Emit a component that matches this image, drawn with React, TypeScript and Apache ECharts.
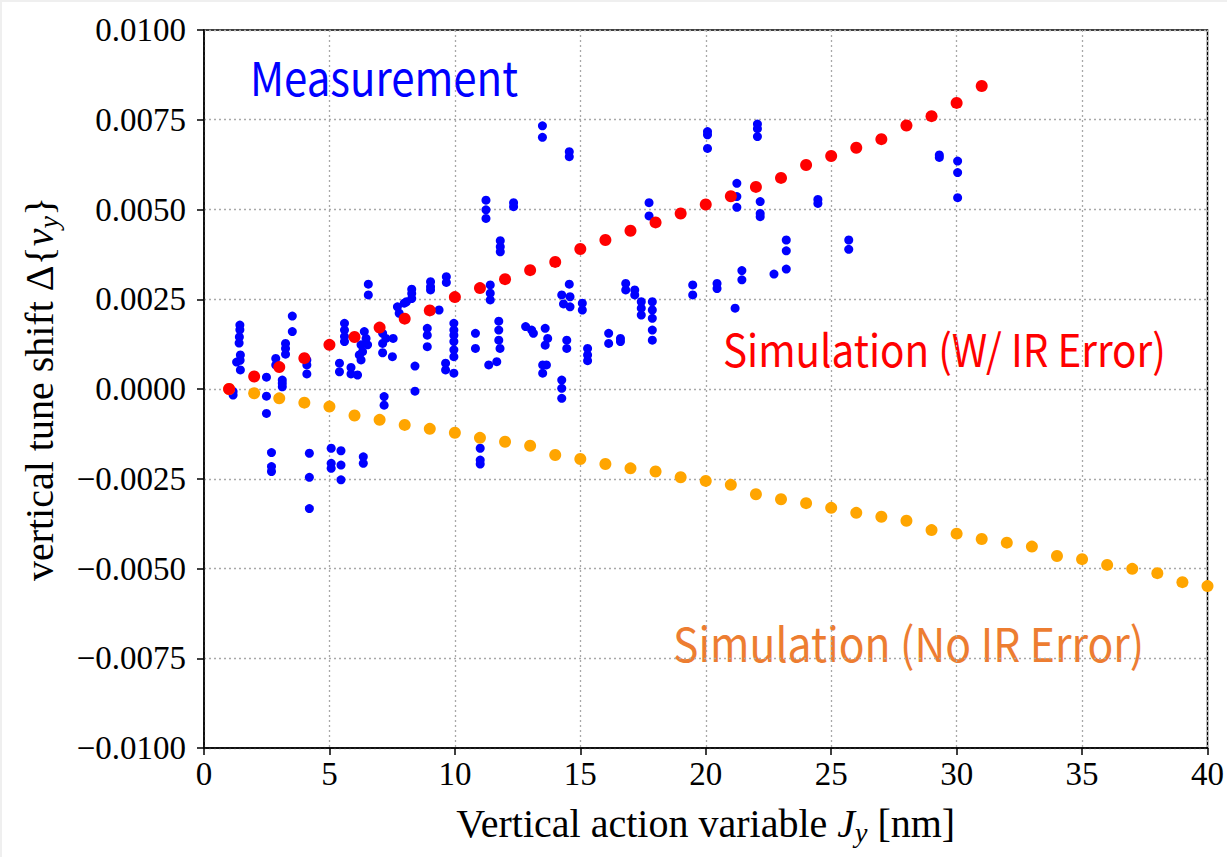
import React, { useEffect, useRef } from "react";
import * as echarts from "echarts";

// Measurement points [J_y (nm), tune shift]
const measurement: [number, number][] = [
  [1.16, -0.00007], [1.16, -0.00017],
  [1.3, 0.00075],
  [1.43, 0.00178], [1.43, 0.00165], [1.41, 0.00145], [1.4, 0.00128], [1.45, 0.00095], [1.44, 0.0008], [1.45, 0.00053],
  [2.49, 0.00033], [2.49, -0.0002], [2.49, -0.00068],
  [2.69, -0.00177], [2.69, -0.00216], [2.69, -0.0023],
  [2.86, 0.00085], [2.86, 0.00067],
  [3.12, 0.00025], [3.12, 0.00016], [3.12, 0.00006],
  [3.25, 0.00127], [3.25, 0.00113], [3.25, 0.00097],
  [3.52, 0.00203], [3.52, 0.0016],
  [4.1, 0.00081], [4.1, 0.00067], [4.1, 0.00042],
  [4.2, -0.00179], [4.2, -0.00246], [4.2, -0.00333],
  [5.07, -0.00165], [5.07, -0.00207], [5.07, -0.00221],
  [5.4, 0.00072], [5.4, 0.00048],
  [5.46, -0.00172], [5.46, -0.00212], [5.46, -0.00253],
  [5.6, 0.00183], [5.6, 0.00164], [5.6, 0.00146], [5.6, 0.00132],
  [5.86, 0.0006], [5.86, 0.00042], [6.12, 0.00039],
  [6.39, 0.0016], [6.46, 0.00141], [6.26, 0.00123], [6.52, 0.00123], [6.32, 0.00104], [6.19, 0.00095], [6.26, 0.00081],
  [6.35, -0.00189], [6.35, -0.00207],
  [6.55, 0.00292], [6.55, 0.00262],
  [7.12, 0.00155], [7.25, 0.00141], [7.12, 0.00127], [7.54, 0.00141], [7.12, 0.00101], [7.51, 0.0009],
  [7.18, -0.00021], [7.18, -0.00045],
  [7.71, 0.00229], [7.98, 0.00239], [7.78, 0.00211], [8.07, 0.00243],
  [8.28, 0.00278], [8.28, 0.00266], [8.28, 0.00252],
  [8.41, 0.00064], [8.41, -0.00006],
  [8.9, 0.00169], [8.9, 0.0015], [8.9, 0.00118],
  [9.03, 0.00299], [9.03, 0.00285], [9.03, 0.00276],
  [9.37, 0.0022],
  [9.66, 0.00313], [9.66, 0.00297],
  [9.63, 0.00072], [9.63, 0.00053],
  [9.96, 0.00183], [9.96, 0.00164], [9.96, 0.0015], [9.96, 0.00132], [9.96, 0.00109], [9.96, 0.0009], [9.96, 0.00044],
  [10.82, 0.00155], [10.82, 0.00113],
  [11.01, -0.00165], [11.01, -0.00198], [11.01, -0.00209],
  [11.24, 0.00526], [11.24, 0.00499], [11.24, 0.00475],
  [11.35, 0.00067], [11.67, 0.00076],
  [11.41, 0.0029], [11.41, 0.00267], [11.41, 0.00248],
  [11.75, 0.00189], [11.75, 0.00164], [11.75, 0.00136], [11.8, 0.00113],
  [11.81, 0.00413], [11.81, 0.00396], [11.81, 0.00382],
  [12.34, 0.00519], [12.34, 0.00508],
  [12.82, 0.00174], [13.06, 0.00164], [13.13, 0.00155],
  [13.6, 0.00169], [13.7, 0.00141], [13.6, 0.00122],
  [13.49, 0.00733], [13.49, 0.00701],
  [13.5, 0.00067], [13.5, 0.00044], [13.65, 0.00067],
  [14.46, 0.00136], [14.46, 0.00113],
  [14.26, 0.00025], [14.26, 0.00002], [14.26, -0.00026],
  [14.26, 0.00262], [14.33, 0.00237], [14.59, 0.00257], [14.59, 0.00229], [14.56, 0.00292],
  [14.56, 0.00661], [14.56, 0.00647],
  [15.08, 0.00239], [15.08, 0.0022],
  [15.29, 0.00113], [15.29, 0.00095], [15.29, 0.00079],
  [16.13, 0.00155], [16.13, 0.00127],
  [16.6, 0.00141], [16.6, 0.00132],
  [16.81, 0.00294], [16.81, 0.00276],
  [17.17, 0.00276], [17.17, 0.00262],
  [17.43, 0.00243], [17.43, 0.00225], [17.43, 0.00206],
  [17.74, 0.00519], [17.74, 0.00482],
  [17.87, 0.00243], [17.87, 0.0022], [17.87, 0.00197], [17.87, 0.00164], [17.87, 0.00136],
  [19.48, 0.0029], [19.48, 0.00262],
  [20.07, 0.00717], [20.07, 0.00708], [20.07, 0.0067],
  [20.45, 0.00294], [20.45, 0.0028],
  [21.17, 0.00225],
  [21.24, 0.00573], [21.24, 0.00536], [21.24, 0.00506],
  [21.44, 0.0033], [21.44, 0.00304],
  [22.06, 0.00738], [22.06, 0.00725], [22.06, 0.00703],
  [22.17, 0.00522], [22.17, 0.00489], [22.17, 0.0048],
  [22.72, 0.0032],
  [23.21, 0.00415], [23.21, 0.00385], [23.21, 0.00334],
  [24.47, 0.00528], [24.47, 0.00517],
  [25.7, 0.00415], [25.7, 0.00389],
  [29.31, 0.00652], [29.31, 0.00645],
  [30.04, 0.00635], [30.04, 0.00603], [30.04, 0.00533],
];

// Simulation with IR error
const simWithJ = [1, 2, 3, 4, 5, 6, 7, 8, 9, 10, 11, 12, 13, 14, 15, 16, 17, 18, 19, 20, 21, 22, 23, 24, 25, 26, 27, 28, 29, 30, 31];
const simWithValues = [
  0, 0.00035, 0.00061, 0.00086, 0.00123, 0.00145, 0.00171, 0.00196, 0.00219, 0.00256,
  0.00281, 0.00306, 0.00331, 0.00354, 0.0039, 0.00415, 0.00441, 0.00464, 0.00489, 0.00514,
  0.00537, 0.00563, 0.00588, 0.00624, 0.00649, 0.00672, 0.00696, 0.00734, 0.0076, 0.00797, 0.00844,
];

// Simulation without IR error
const simNoJ = [1, 2, 3, 4, 5, 6, 7, 8, 9, 10, 11, 12, 13, 14, 15, 16, 17, 18, 19, 20, 21, 22, 23, 24, 25, 26, 27, 28, 29, 30, 31, 32, 33, 34, 35, 36, 37, 38, 39, 40];
const simNoValues = [
  0, -0.00012, -0.00026, -0.00038, -0.00049, -0.00074, -0.00086, -0.001, -0.00111, -0.00122,
  -0.00136, -0.00147, -0.00158, -0.00184, -0.00195, -0.00209, -0.00221, -0.0023, -0.00246, -0.00256,
  -0.00267, -0.00293, -0.00307, -0.00318, -0.00331, -0.00345, -0.00356, -0.00367, -0.00393, -0.00403,
  -0.00418, -0.00428, -0.00439, -0.00465, -0.00474, -0.0049, -0.00501, -0.00513, -0.00538, -0.00549,
];

const xMin = 0, xMax = 40, xStep = 5;
const yMin = -0.01, yMax = 0.01, yStep = 0.0025;

const SERIF = "'Liberation Serif', 'Times New Roman', serif";
const SANS = "'Noto Sans CJK JP', 'Noto Sans', sans-serif";

export default function App() {
  const ref = useRef<HTMLDivElement>(null);
  useEffect(() => {
    if (!ref.current) return;
    const chart = echarts.init(ref.current, null, { renderer: "svg" });
    const titleRich = {
      r: { fontFamily: SERIF, fontSize: 40, color: "#000", lineHeight: 46 },
      i: { fontFamily: SERIF, fontSize: 40, fontStyle: "italic", color: "#000", lineHeight: 46 },
      s: { fontFamily: SERIF, fontSize: 28, fontStyle: "italic", color: "#000", lineHeight: 22, verticalAlign: "bottom" },
    };
    const gridLine = { show: true, lineStyle: { color: "#a8a8a8", width: 1.3, type: [2, 3] } };
    chart.setOption({
      animation: false,
      grid: { left: 204, right: 15, top: 30, bottom: 109, show: true, borderColor: "#000", borderWidth: 1.5 },
      xAxis: {
        type: "value", min: xMin, max: xMax, interval: xStep,
        axisLine: { show: true, onZero: false, lineStyle: { color: "#000", width: 1.5 } },
        axisTick: { show: true, inside: false, length: 7, lineStyle: { color: "#000", width: 1.5 } },
        axisLabel: { fontFamily: SERIF, fontSize: 33, color: "#000", margin: 9 },
        splitLine: gridLine,
        name: "{r|Vertical action variable }{i|J}{s|y}{r| [nm]}",
        nameLocation: "middle", nameGap: 52,
        nameTextStyle: { fontFamily: SERIF, fontSize: 40, color: "#000", rich: titleRich },
      },
      yAxis: {
        type: "value", min: yMin, max: yMax, interval: yStep,
        axisLine: { show: true, onZero: false, lineStyle: { color: "#000", width: 1.5 } },
        axisTick: { show: true, inside: false, length: 7, lineStyle: { color: "#000", width: 1.5 } },
        axisLabel: {
          fontFamily: SERIF, fontSize: 33, color: "#000", margin: 18,
          formatter: (v: number) => (v < -1e-12 ? "\u2212" : "") + Math.abs(v).toFixed(4),
        },
        splitLine: gridLine,
        name: "{r|vertical tune shift \u0394{}{i|\u03bd}{s|y}}",
        nameLocation: "middle", nameRotate: 90, nameGap: 142,
        nameTextStyle: { fontFamily: SERIF, fontSize: 40, color: "#000", rich: titleRich },
      },
      series: [
        { type: "scatter", data: measurement, symbolSize: 9, itemStyle: { color: "#0000ff", opacity: 1 }, silent: true },
        { type: "scatter", data: simNoJ.map((j, k) => [j, simNoValues[k]]), symbolSize: 12, itemStyle: { color: "#ffa500", opacity: 1 }, silent: true },
        { type: "scatter", data: simWithJ.map((j, k) => [j, simWithValues[k]]), symbolSize: 12, itemStyle: { color: "#ff0000", opacity: 1 }, silent: true },
      ],
      graphic: [
        { type: "text", x: 250, y: 75, scaleX: 0.893, style: { text: "Measurement", fill: "#0000ff", font: `47px ${SANS}`, verticalAlign: "middle" } },
        { type: "text", x: 723, y: 347, scaleX: 0.898, style: { text: "Simulation (W/ IR Error)", fill: "#ff0000", font: `45px ${SANS}`, verticalAlign: "middle" } },
        { type: "text", x: 673, y: 642, scaleX: 0.907, style: { text: "Simulation (No IR Error)", fill: "#ed7d31", font: `47px ${SANS}`, verticalAlign: "middle" } },
      ],
    });
    return () => chart.dispose();
  }, []);
  return (
    <div
      ref={ref}
      style={{ position: "absolute", left: 0, top: 0, width: 1227, height: 857, background: "#fff", boxShadow: "inset 2px 2px 0 #efefef" }}
    />
  );
}
